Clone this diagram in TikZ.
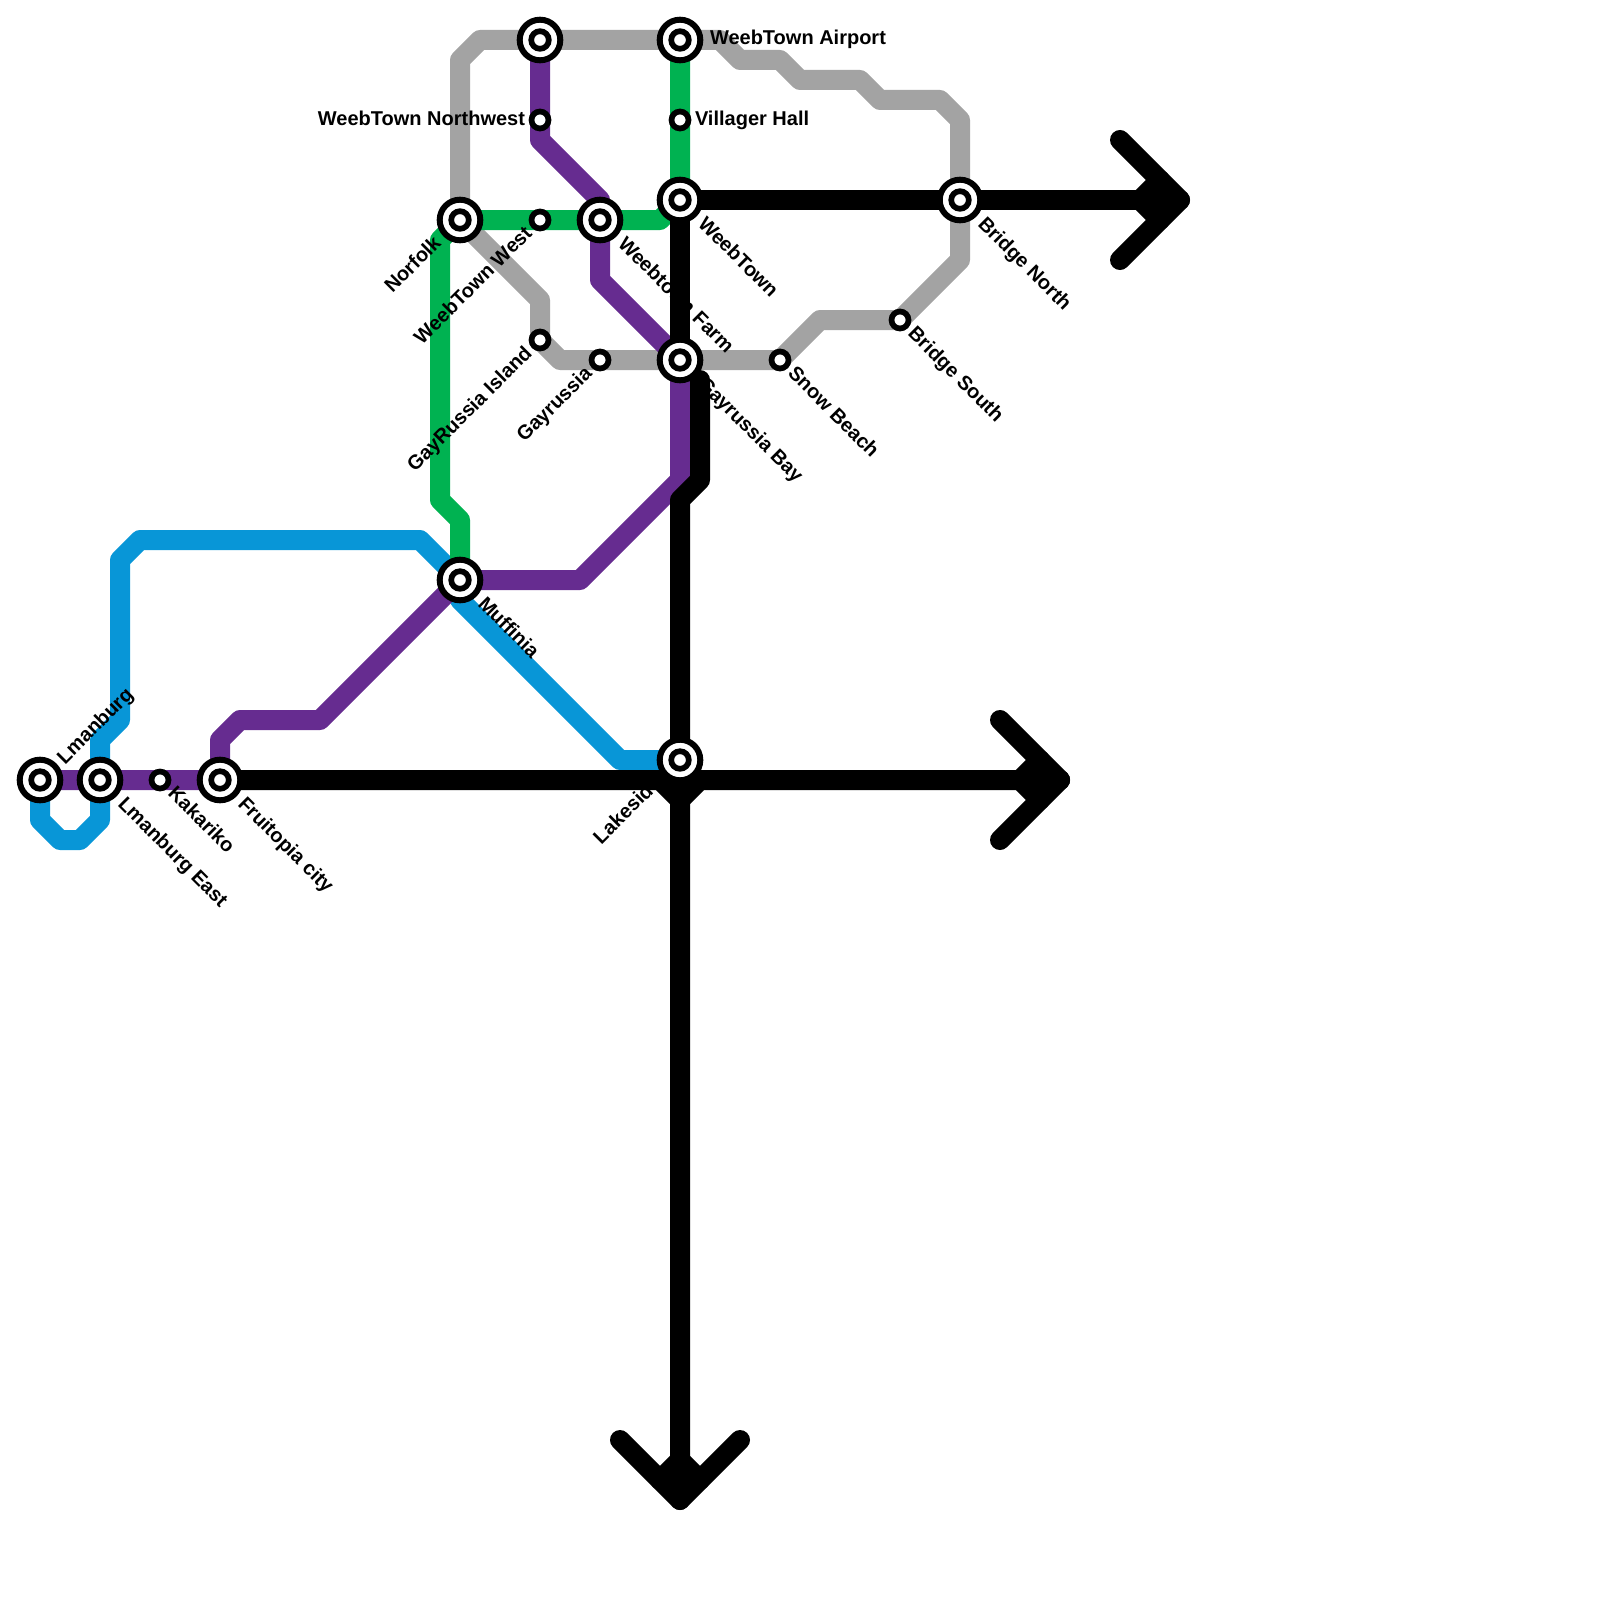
\documentclass[tikz,border=0pt]{standalone}
\usepackage{fontspec}
\setmainfont{Liberation Sans}
\usetikzlibrary{backgrounds}
\definecolor{lgray}{HTML}{A3A3A3}
\definecolor{lgreen}{HTML}{00B251}
\definecolor{lpurple}{HTML}{662C90}
\definecolor{lblue}{HTML}{0896D7}
\tikzset{
  metro/.style={line width=20pt,line cap=round,line join=round},
  bigstn/.style={circle,draw=black,fill=white,line width=6pt,minimum size=40.6pt,inner sep=0pt,outer sep=0pt,
    path picture={\draw[line width=5.7pt,fill=white] (path picture bounding box.center) circle (8.8pt);}},
  smallstn/.style={circle,draw=black,fill=white,line width=5.7pt,minimum size=17pt,inner sep=0pt,outer sep=0pt},
  lbl/.style={font=\fontsize{20pt}{20pt}\selectfont\bfseries,inner sep=0pt,outer sep=0pt,text=black},
  dn/.style={lbl,rotate=-45,anchor=base west},
  up/.style={lbl,rotate=45,anchor=base west},
  upend/.style={lbl,rotate=45,anchor=base east},
}
\begin{document}
\begin{tikzpicture}[x=1pt,y=-1pt]
\useasboundingbox (0,0) rectangle (1600,1600);
% stations
\node[bigstn] (lman) at (40,780) {};
\node[bigstn] (lmane) at (100,780) {};
\node[smallstn] (kak) at (160,780) {};
\node[bigstn] (fruit) at (220,780) {};
\node[bigstn] (muff) at (460,580) {};
\node[bigstn] (norf) at (460,220) {};
\node[bigstn] (topn) at (540,40) {};
\node[bigstn] (air) at (680,40) {};
\node[smallstn] (nw) at (540,120) {};
\node[smallstn] (vill) at (680,120) {};
\node[smallstn] (wwest) at (540,220) {};
\node[bigstn] (farm) at (600,220) {};
\node[bigstn] (wt) at (680,200) {};
\node[bigstn] (bn) at (960,200) {};
\node[smallstn] (gi) at (540,340) {};
\node[smallstn] (gay) at (600,360) {};
\node[bigstn] (gb) at (680,360) {};
\node[smallstn] (snow) at (780,360) {};
\node[smallstn] (bs) at (900,320) {};
\node[bigstn] (lake) at (680,760) {};
\begin{scope}[on background layer]
% gray
\draw[metro,lgray] (norf.center) -- (460,60) -- (480,40) -- (topn.center) -- (air.center) -- (720,40) -- (740,60) -- (780,60) -- (800,80) -- (860,80) -- (880,100) -- (940,100) -- (960,120) -- (bn.center) -- (960,260) -- (bs.center) -- (820,320) -- (snow.center) -- (gb.center) -- (gay.center) -- (560,360) -- (gi.center) -- (540,300) -- (norf.center);
% blue
\draw[metro,lblue] (lake.center) -- (620,760) -- (460,600) -- (muff.center) -- (420,540) -- (140,540) -- (120,560) -- (120,720) -- (100,740) -- (lmane.center) -- (100,820) -- (80,840) -- (60,840) -- (40,820) -- (lman.center);
% green
\draw[metro,lgreen] (air.center) -- (vill.center) -- (wt.center) -- (660,220) -- (farm.center) -- (wwest.center) -- (norf.center) -- (440,240) -- (440,500) -- (460,520) -- (muff.center);
% purple
\draw[metro,lpurple] (topn.center) -- (nw.center) -- (540,140) -- (600,200) -- (farm.center) -- (600,280) -- (gb.center) -- (680,480) -- (580,580) -- (muff.center) -- (320,720) -- (240,720) -- (220,740) -- (fruit.center) -- (kak.center) -- (lmane.center) -- (lman.center);
% black
\draw[metro,black] (wt.center) -- (bn.center) -- (1180,200);
\draw[metro,black] (1120,140) -- (1180,200) -- (1120,260);
\draw[metro,black] (1160,180) -- (1140,200) -- (1160,220);
\draw[metro,black] (wt.center) -- (gb.center);
\draw[metro,black] (700,380) -- (700,480) -- (680,500) -- (lake.center) -- (680,1500);
\draw[metro,black] (620,1440) -- (680,1500) -- (740,1440);
\draw[metro,black] (660,1480) -- (680,1460) -- (700,1480);
\draw[metro,black] (fruit.center) -- (660,780) -- (680,800) -- (700,780) -- (1060,780);
\draw[metro,black] (1000,720) -- (1060,780) -- (1000,840);
\draw[metro,black] (1040,760) -- (1020,780) -- (1040,800);
\draw[metro,black] (660,780) -- (1060,780);
\end{scope}
% labels
\node[up] (tlman) at ([shift={(25,-15)}]lman.center) {Lmanburg};
\node[dn] (tlmane) at ([shift={(17,25)}]lmane.center) {Lmanburg East};
\node[dn] (tkak) at ([shift={(7,14.5)}]kak.center) {Kakariko};
\node[dn] (tfruit) at ([shift={(17,25)}]fruit.center) {Fruitopia city};
\node[dn] (tmuff) at ([shift={(17,25)}]muff.center) {Muffinia};
\node[upend] (tnorf) at ([shift={(-18,24.5)}]norf.center) {Norfolk};
\node[upend] (twwest) at ([shift={(-7,14.5)}]wwest.center) {WeebTown West};
\node[dn] (tfarm) at ([shift={(17,25)}]farm.center) {Weebtown Farm};
\node[dn] (twt) at ([shift={(17,25)}]wt.center) {WeebTown};
\node[dn] (tbn) at ([shift={(17,25)}]bn.center) {Bridge North};
\node[dn] (tbs) at ([shift={(7,14.5)}]bs.center) {Bridge South};
\node[dn] (tsnow) at ([shift={(7,14.5)}]snow.center) {Snow Beach};
\node[dn] (tgb) at ([shift={(17,25)}]gb.center) {Gayrussia Bay};
\node[upend] (tgi) at ([shift={(-7,14.5)}]gi.center) {GayRussia Island};
\node[upend] (tgay) at ([shift={(-7,14.5)}]gay.center) {Gayrussia};
\node[upend] (tlake) at ([shift={(-18,24.5)}]lake.center) {Lakeside};
\node[lbl,anchor=base east] (tnw) at ([shift={(-15,5)}]nw.center) {WeebTown Northwest};
\node[lbl,anchor=base west] (tvill) at ([shift={(15,5)}]vill.center) {Villager Hall};
\node[lbl,anchor=base west] (tair) at ([shift={(30,5)}]air.center) {WeebTown Airport};
\end{tikzpicture}
\end{document}
